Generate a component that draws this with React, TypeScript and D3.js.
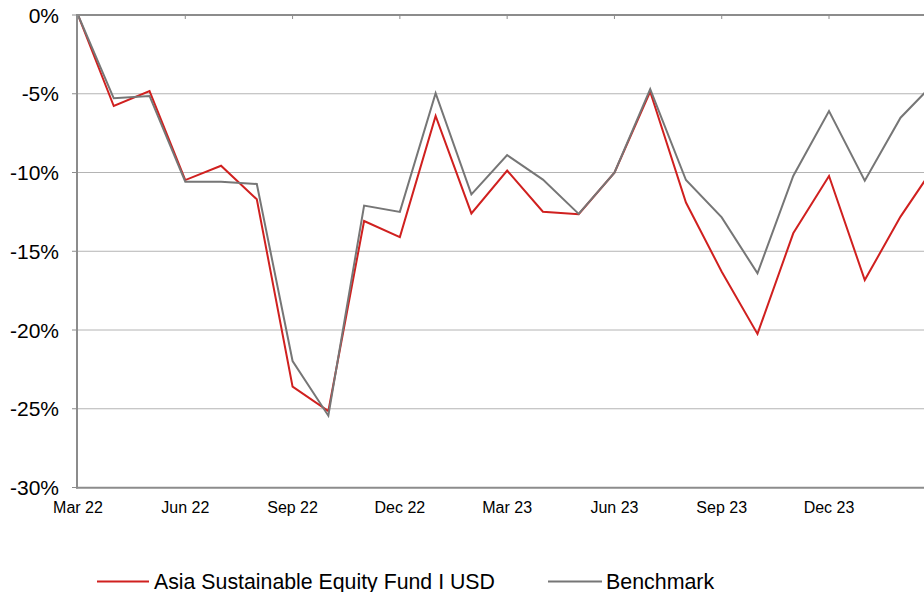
import React from 'react';
import * as d3 from 'd3';

const months = [
    "Mar 22", "Apr 22", "May 22", "Jun 22", "Jul 22", "Aug 22", "Sep 22", "Oct 22", "Nov 22", "Dec 22",
    "Jan 23", "Feb 23", "Mar 23", "Apr 23", "May 23", "Jun 23", "Jul 23", "Aug 23", "Sep 23", "Oct 23",
    "Nov 23", "Dec 23", "Jan 24", "Feb 24", "Mar 24"
];

const fund = [
    0, -5.78, -4.83, -10.48, -9.57, -11.7, -23.6, -25.15, -13.08, -14.1,
    -6.41, -12.6, -9.88, -12.49, -12.65, -10.01, -4.87, -11.91, -16.3, -20.25,
    -13.86, -10.22, -16.83, -12.8, -9.44
];

const benchmark = [
    0, -5.29, -5.14, -10.58, -10.58, -10.73, -21.97, -25.44, -12.1, -12.5,
    -4.97, -11.39, -8.9, -10.45, -12.63, -10.01, -4.7, -10.48, -12.85, -16.4,
    -10.22, -6.1, -10.52, -6.52, -4.18
];

const xLabels = ["Mar 22", "Jun 22", "Sep 22", "Dec 22", "Mar 23", "Jun 23", "Sep 23", "Dec 23"];
const yTicks = [0, -5, -10, -15, -20, -25, -30];

const seriesNames = ["Asia Sustainable Equity Fund I USD", "Benchmark"];

function App() {
    const width = 924;
    const height = 592;
    const font = "'Liberation Sans', Arial, sans-serif";

    const xScale = d3.scalePoint<string>()
        .domain(months)
        .range([78, 936.3]);

    const yScale = d3.scaleLinear()
        .domain([-30, 0])
        .range([487.5, 15]);

    const line = d3.line<number>()
        .x((d, i) => xScale(months[i]) as number)
        .y(d => yScale(d));

    const axisColor = "#8c8c8c";
    const fundColor = "#d0201f";
    const benchColor = "#767676";

    return (
        <svg width={width} height={height} style={{ position: 'absolute', left: 0, top: 0, overflow: 'hidden' }}>
            {/* gridlines */}
            {yTicks.filter(t => t !== 0 && t !== -30).map((t, i) => (
                <line key={i} x1={78} x2={width} y1={yScale(t)} y2={yScale(t)} stroke="#b4b4b4" strokeWidth={1} />
            ))}

            {/* series */}
            <path d={line(fund) || ""} fill="none" stroke={fundColor} strokeWidth={2} strokeLinejoin="miter" />
            <path d={line(benchmark) || ""} fill="none" stroke={benchColor} strokeWidth={2} strokeLinejoin="miter" />

            {/* top line at 0% with quarter ticks */}
            <line x1={77} x2={width} y1={yScale(0)} y2={yScale(0)} stroke={axisColor} strokeWidth={2} />
            {xLabels.map((m, i) => (
                <line key={i} x1={xScale(m)} x2={xScale(m)} y1={yScale(0)} y2={yScale(0) + 4} stroke={axisColor} strokeWidth={1} />
            ))}

            {/* left and bottom axes */}
            <line x1={77} x2={77} y1={14} y2={488.5} stroke={axisColor} strokeWidth={2} />
            <line x1={76} x2={width} y1={487.8} y2={487.8} stroke={axisColor} strokeWidth={2} />

            {/* y ticks and labels */}
            {yTicks.map((t, i) => (
                <g key={i} transform={`translate(0, ${yScale(t)})`}>
                    <line x1={72} x2={77} stroke={axisColor} strokeWidth={1} />
                    <text x={59} dy="0.36em" textAnchor="end" style={{ fontSize: '21px', fontFamily: font }} fill="#000">
                        {t}%
                    </text>
                </g>
            ))}

            {/* x labels */}
            {xLabels.map((m, i) => (
                <text key={i} x={xScale(m)} y={513} textAnchor="middle" style={{ fontSize: '16px', fontFamily: font }} fill="#000">
                    {m}
                </text>
            ))}

            {/* legend */}
            <g>
                <line x1={97} x2={149} y1={581.5} y2={581.5} stroke={fundColor} strokeWidth={2} />
                <text x={154} y={588.5} style={{ fontSize: '21.3px', fontFamily: font }} fill="#000">{seriesNames[0]}</text>
                <line x1={548} x2={602} y1={581.5} y2={581.5} stroke={benchColor} strokeWidth={2} />
                <text x={606} y={588.5} style={{ fontSize: '21.4px', fontFamily: font }} fill="#000">{seriesNames[1]}</text>
            </g>
        </svg>
    );
}

export default App;
